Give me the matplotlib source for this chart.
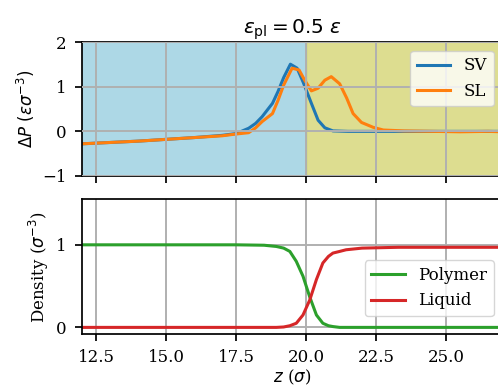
"""Pressure difference and density profiles across the polymer/liquid interface."""

import matplotlib
matplotlib.use("Agg")
import matplotlib.pyplot as plt


# pressure profiles
z_sv = [12.0, 13.0, 14.0, 15.0, 16.0, 17.0, 17.5, 17.95, 18.2, 18.43, 18.8,
        19.0, 19.2, 19.44, 19.68, 19.9, 20.19, 20.43, 20.67, 20.96, 21.5,
        22.5, 24.0, 25.5, 27.0]
dp_sv = [-0.28, -0.25, -0.22, -0.18, -0.14, -0.09, -0.05, 0.07, 0.18, 0.33, 0.63,
         0.90, 1.21, 1.51, 1.42, 1.10, 0.63, 0.25, 0.08, 0.01, 0.0,
         0.0, 0.0, 0.0, 0.0]

z_sl = [12.0, 13.0, 14.0, 15.0, 16.0, 17.0, 17.5, 17.95, 18.2, 18.43, 18.8,
        19.0, 19.2, 19.5, 19.75, 19.95, 20.19, 20.43, 20.67, 20.9, 21.2,
        21.45, 21.68, 21.98, 22.4, 22.76, 23.5, 24.5, 25.5, 26.5, 27.0]
dp_sl = [-0.28, -0.25, -0.22, -0.18, -0.14, -0.10, -0.06, -0.03, 0.08, 0.22, 0.40,
         0.70, 1.04, 1.42, 1.38, 1.15, 0.91, 0.97, 1.15, 1.23, 1.07,
         0.75, 0.40, 0.20, 0.09, 0.03, 0.01, 0.0, -0.01, 0.0, -0.01]

# density profiles
z_rho = [12.0, 14.0, 16.0, 17.5, 18.5, 18.94, 19.2, 19.42, 19.65, 19.89, 20.13,
         20.37, 20.6, 20.8, 20.96, 21.2, 21.43, 22.0, 23.3, 25.0, 27.0]
rho_polymer = [1.0, 1.0, 1.0, 1.0, 0.995, 0.98, 0.96, 0.92, 0.80, 0.62, 0.37,
               0.15, 0.05, 0.02, 0.01, 0.0, 0.0, 0.0, 0.0, 0.0, 0.0]
rho_liquid = [0.0, 0.0, 0.0, 0.0, 0.0, 0.0, 0.005, 0.02, 0.05, 0.15, 0.33,
              0.58, 0.78, 0.86, 0.90, 0.92, 0.94, 0.96, 0.97, 0.97, 0.97]

Z_INTERFACE = 20.0

plt.rcParams["font.family"] = "serif"
plt.rcParams["font.size"] = 12
plt.rcParams["axes.linewidth"] = 1.25
plt.rcParams["grid.linewidth"] = 1.4
plt.rcParams["xtick.major.size"] = 5
plt.rcParams["ytick.major.size"] = 5
plt.rcParams["xtick.major.width"] = 1.25
plt.rcParams["ytick.major.width"] = 1.25
plt.rcParams["xtick.major.pad"] = 6
plt.rcParams["ytick.major.pad"] = 6

fig = plt.figure(figsize=(4.98, 3.89), dpi=100)
ax1 = fig.add_axes([0.165, 0.548, 0.843, 0.343])
ax2 = fig.add_axes([0.165, 0.1414, 0.843, 0.346], sharex=ax1)

# top: pressure difference
ax1.axvspan(12, Z_INTERFACE, color="lightblue", zorder=0)
ax1.axvspan(Z_INTERFACE, 27, color="tab:olive", alpha=0.5, lw=0, zorder=0)
ax1.plot(z_sv, dp_sv, color="tab:blue", linewidth=2.2, label="SV")
ax1.plot(z_sl, dp_sl, color="tab:orange", linewidth=2.2, label="SL")
ax1.set_ylim(-1, 2)
ax1.set_yticks([-1, 0, 1, 2])
ax1.set_ylabel(r"$\Delta P\ (\epsilon\sigma^{-3})$")
ax1.set_title(r"$\epsilon_{\rm pl} = 0.5\ \epsilon$")
ax1.grid(True)
ax1.set_axisbelow(False)
ax1.tick_params(labelbottom=False)
ax1.legend(loc="upper right")

# bottom: densities
ax2.plot(z_rho, rho_polymer, color="tab:green", linewidth=2.2, label="Polymer")
ax2.plot(z_rho, rho_liquid, color="tab:red", linewidth=2.2, label="Liquid")
ax2.set_ylim(-0.08, 1.55)
ax2.set_yticks([0, 1])
ax2.set_xlim(12, 27)
ax2.set_xticks([12.5, 15.0, 17.5, 20.0, 22.5, 25.0])
ax2.set_xlabel(r"$z$ ($\sigma$)", labelpad=1)
ax2.set_ylabel(r"Density ($\sigma^{-3}$)")
ax2.grid(True)
ax2.legend(loc="center right", bbox_to_anchor=(1.0, 0.34))

fig.savefig("out.png", dpi=100)
